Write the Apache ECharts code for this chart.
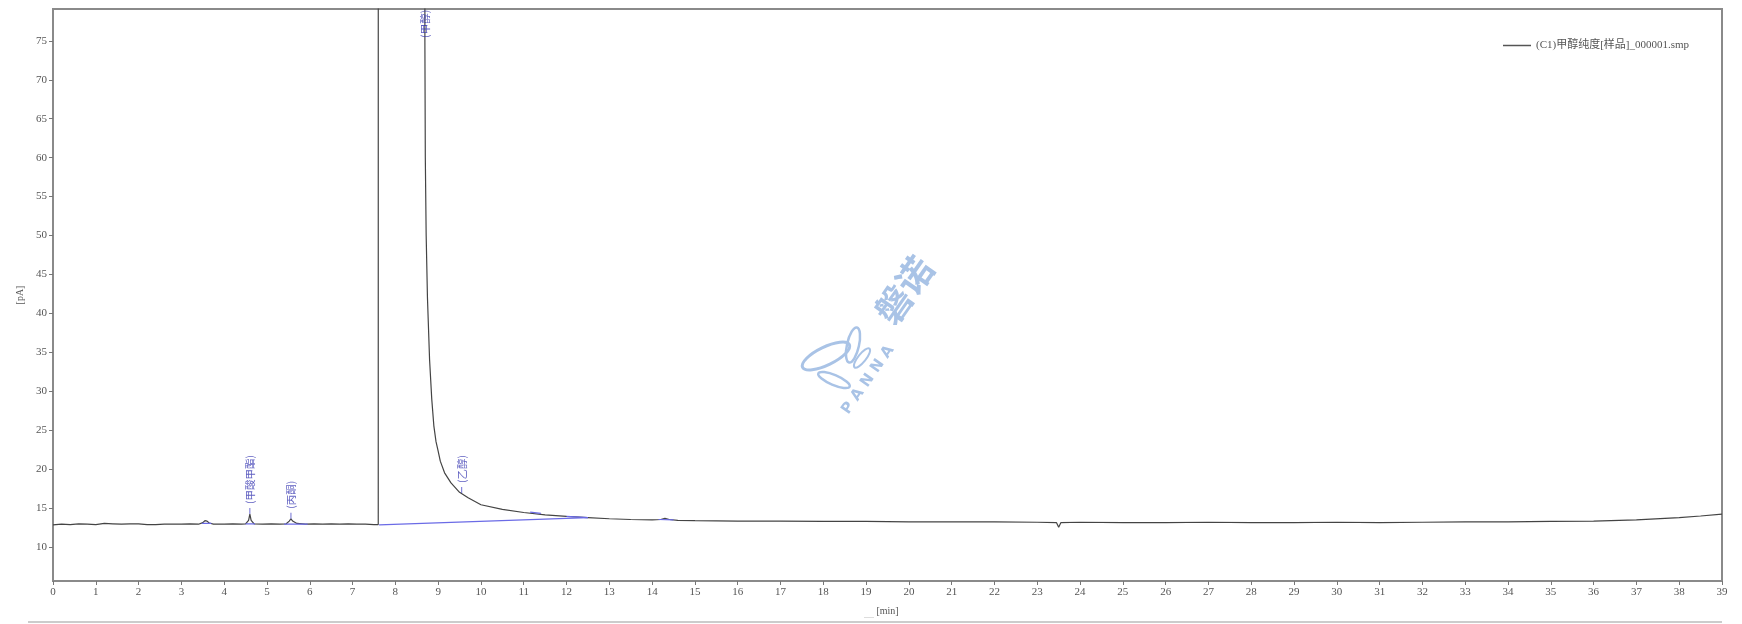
<!DOCTYPE html>
<html>
<head>
<meta charset="utf-8">
<script src="https://cdn.jsdelivr.net/npm/echarts@6/dist/echarts.min.js"></script>
<style>html,body{margin:0;padding:0;background:#fff;}#c{width:1742px;height:624px;}</style>
</head>
<body>
<div id="c"></div>
<script>
// ---- data ----
const seriesName = '(C1)甲醇纯度[样品]_000001.smp';
const yTickValues = [10, 15, 20, 25, 30, 35, 40, 45, 50, 55, 60, 65, 70, 75];
const signalTime = [
  0, 0.2, 0.4, 0.6, 0.8, 1.0, 1.2, 1.4, 1.6, 1.8, 2.0, 2.2, 2.4, 2.6, 2.8, 3.0, 3.2, 3.4,
  3.5, 3.55, 3.6, 3.65, 3.75, 4.0, 4.2, 4.4, 4.5, 4.57, 4.6, 4.63, 4.7, 4.9, 5.1, 5.3,
  5.45, 5.52, 5.56, 5.6, 5.7, 5.9, 6.1, 6.3, 6.5, 6.7, 6.9, 7.1, 7.3, 7.5, 7.6,
  7.62, 8.68, 8.69, 8.70, 8.72, 8.75, 8.8, 8.85, 8.9, 8.95, 9.0, 9.05, 9.15, 9.3, 9.5,
  9.7, 10.0, 10.5, 11.0, 11.5, 12.0, 12.5, 13.0, 13.5, 14.0, 14.2, 14.3, 14.4, 14.6,
  15, 16, 17, 18, 19, 20, 21, 22, 23, 23.45, 23.5, 23.55, 24, 25, 26, 27, 28, 29, 30,
  31, 32, 33, 34, 35, 36, 37, 38, 38.5, 39
];
const signalPA = [
  12.8, 12.9, 12.85, 12.95, 12.9, 12.85, 13.0, 12.95, 12.9, 12.95, 12.95, 12.85, 12.85, 12.9, 12.9, 12.9, 12.95, 12.9,
  13.1, 13.35, 13.3, 13.05, 12.9, 12.9, 12.95, 12.9, 12.95, 13.4, 14.2, 13.4, 12.95, 12.9, 12.95, 12.9,
  12.95, 13.3, 13.6, 13.3, 13.0, 12.9, 12.95, 12.9, 12.95, 12.9, 12.95, 12.9, 12.9, 12.85, 12.85,
  2000, 2000, 75, 60, 50, 42, 34, 29, 25.5, 23.5, 22.3, 21, 19.5, 18.2, 17,
  16.3, 15.4, 14.8, 14.4, 14.1, 13.9, 13.75, 13.6, 13.5, 13.45, 13.5, 13.65, 13.5, 13.4,
  13.35, 13.3, 13.3, 13.25, 13.25, 13.2, 13.2, 13.2, 13.15, 13.1, 12.5, 13.1, 13.15, 13.1, 13.1, 13.15, 13.1, 13.1, 13.15,
  13.1, 13.15, 13.2, 13.2, 13.25, 13.3, 13.45, 13.75, 13.95, 14.2
];
// integration baselines (start time, start pA, end time, end pA)
const baseStartT = [7.62, 3.48, 4.5, 5.4, 11.15, 12.0, 14.15];
const baseStartV = [12.8, 13.0, 12.95, 12.9, 14.45, 13.9, 13.5];
const baseEndT = [12.5, 3.7, 4.72, 5.95, 11.4, 12.5, 14.5];
const baseEndV = [13.75, 13.0, 12.95, 12.9, 14.3, 13.75, 13.45];
// peak labels
const peakNames = ['(甲酸甲酯)', '(丙酮)', '(甲醇)', '(乙醇)'];
const peakTime = [4.6, 5.56, 8.69, 9.55];
const peakPA = [14.2, 13.6, 75.0, 16.9];

// ---- build ----
const signal = signalTime.map((t, i) => [t, signalPA[i]]);
const blue = '#4a4ac8';
const baseSeries = baseStartT.map((t, i) => ({
  type: 'line', silent: true, symbol: 'none', animation: false,
  lineStyle: { color: '#6b6be6', width: 1.2 },
  data: [[t, baseStartV[i]], [baseEndT[i], baseEndV[i]]]
}));
const labelData = peakTime.map((t, i) => {
  const onTop = i === 2;
  return {
    value: [t, peakPA[i]], name: peakNames[i],
    symbolSize: onTop ? 0 : [1, 6],
    label: onTop ? { distance: 0 } : undefined
  };
});

const chart = echarts.init(document.getElementById('c'));
const serif = '"Liberation Serif", "Noto Sans CJK SC", serif';
const cjk = '"Noto Sans CJK SC", sans-serif';
chart.setOption({
  animation: false,
  backgroundColor: '#fff',
  grid: { left: 53, right: 20, top: 9, bottom: 43, show: true, borderColor: '#8a8a8a', borderWidth: 2 },
  legend: {
    data: [seriesName], left: 1498, top: 35, icon: 'rect', itemWidth: 28, itemHeight: 1.5, itemGap: 5,
    textStyle: { color: '#555', fontSize: 11, fontFamily: serif }
  },
  xAxis: {
    type: 'value', min: 0, max: 39, interval: 1,
    name: '[min]', nameLocation: 'middle', nameGap: 25,
    nameTextStyle: { color: '#555', fontSize: 10, fontFamily: serif },
    axisLine: { lineStyle: { color: '#8a8a8a', width: 2 } },
    axisTick: { show: true, length: 4, lineStyle: { color: '#777' } },
    axisLabel: { color: '#555', fontSize: 11, fontFamily: serif, margin: 6 },
    splitLine: { show: false }
  },
  yAxis: {
    type: 'value', min: 5.6, max: 79.1,
    name: '[pA]', nameLocation: 'middle', nameGap: 26, nameRotate: 90,
    nameTextStyle: { color: '#555', fontSize: 10, fontFamily: serif },
    axisLine: { show: true, lineStyle: { color: '#8a8a8a', width: 2 } },
    axisTick: { show: true, length: 4, customValues: yTickValues, lineStyle: { color: '#777' } },
    axisLabel: { color: '#555', fontSize: 11, fontFamily: serif, margin: 6, customValues: yTickValues },
    splitLine: { show: false }
  },
  series: [
    {
      name: seriesName, type: 'line', symbol: 'none', animation: false, clip: true,
      lineStyle: { color: '#444', width: 1.2 }, itemStyle: { color: '#555' },
      data: signal, z: 3
    },
    ...baseSeries,
    {
      type: 'scatter', silent: true, z: 4,
      symbol: 'rect', symbolOffset: [0, -3],
      itemStyle: { color: blue },
      data: labelData,
      label: {
        show: true, formatter: p => p.name, position: 'top', distance: 4,
        rotate: 90, align: 'left', verticalAlign: 'middle',
        color: '#3535b0', fontSize: 10.5, fontFamily: cjk
      }
    }
  ],
  graphic: [
    { type: 'line', shape: { x1: 28, y1: 622, x2: 1722, y2: 622 }, style: { stroke: '#bbb', lineWidth: 1.5 } },
    { type: 'text', left: 864, top: 614, style: { text: '-----', fill: '#aaa', font: '6px sans-serif' } },
    { type: 'text', x: 868, y: 380, rotation: 0.96, style: { text: 'P A N N A', fill: '#a9c3e6', font: 'bold 15px "DejaVu Sans", sans-serif', align: 'center', verticalAlign: 'middle' } },
    { type: 'text', x: 904, y: 290, rotation: 0.96, style: { text: '磐诺', fill: '#a9c3e6', font: 'bold 36px "Noto Sans CJK SC", sans-serif', align: 'center', verticalAlign: 'middle' } },
    { type: 'ellipse', x: 826, y: 356, rotation: 0.45, shape: { cx: 0, cy: 0, rx: 26, ry: 9 }, style: { fill: 'none', stroke: '#a9c3e6', lineWidth: 3 } },
    { type: 'ellipse', x: 853, y: 345, rotation: 1.35, shape: { cx: 0, cy: 0, rx: 18, ry: 6 }, style: { fill: 'none', stroke: '#a9c3e6', lineWidth: 2.5 } },
    { type: 'ellipse', x: 834, y: 380, rotation: -0.4, shape: { cx: 0, cy: 0, rx: 17, ry: 5 }, style: { fill: 'none', stroke: '#a9c3e6', lineWidth: 2.5 } },
    { type: 'ellipse', x: 862, y: 358, rotation: 0.9, shape: { cx: 0, cy: 0, rx: 12, ry: 4 }, style: { fill: 'none', stroke: '#a9c3e6', lineWidth: 2 } }
  ]
});
</script>
</body>
</html>
